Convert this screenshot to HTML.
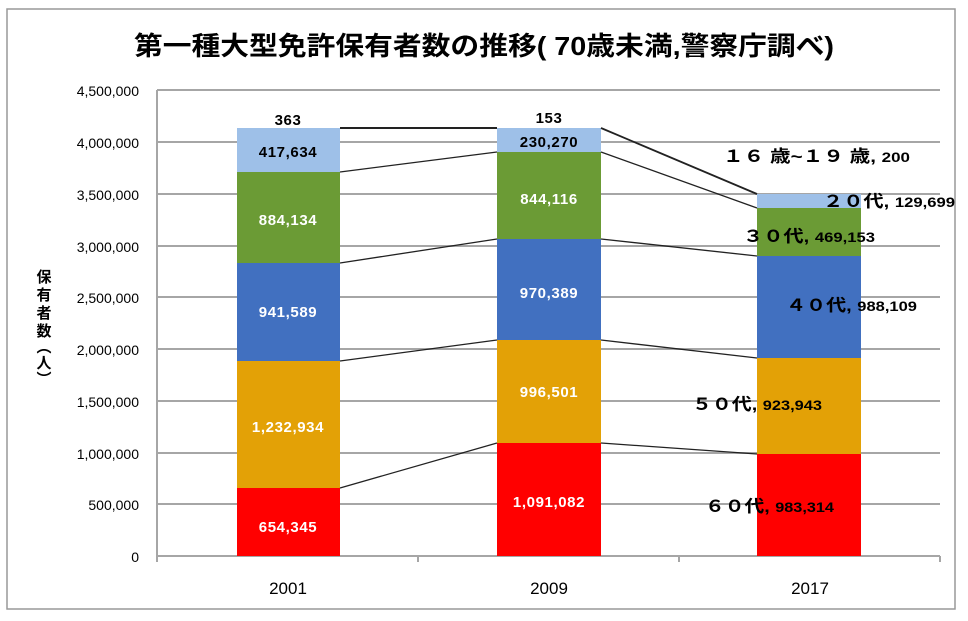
<!DOCTYPE html>
<html><head><meta charset="utf-8"><style>
html,body{margin:0;padding:0;background:#fff;}
svg{display:block;}
text{font-family:"Liberation Sans","Noto Sans CJK JP",sans-serif;}
</style></head><body>
<svg width="968" height="621" viewBox="0 0 968 621" xmlns="http://www.w3.org/2000/svg">
<rect x="0" y="0" width="968" height="621" fill="#fff"/>
<rect x="7" y="9" width="948" height="600" fill="#fff" stroke="#999" stroke-width="1.5"/>
<text x="134" y="55" font-size="26" font-weight="bold" fill="#000" textLength="700" lengthAdjust="spacingAndGlyphs">第一種大型免許保有者数の推移(  70歳未満,警察庁調べ)</text>
<g stroke="#a6a6a6" stroke-width="2">
<line x1="157" y1="90" x2="940" y2="90"/><line x1="157" y1="142" x2="940" y2="142"/>
<line x1="157" y1="194" x2="940" y2="194"/><line x1="157" y1="246" x2="940" y2="246"/>
<line x1="157" y1="297" x2="940" y2="297"/><line x1="157" y1="349" x2="940" y2="349"/>
<line x1="157" y1="401" x2="940" y2="401"/><line x1="157" y1="453" x2="940" y2="453"/>
<line x1="157" y1="504" x2="940" y2="504"/><line x1="157" y1="556" x2="940" y2="556"/>
<line x1="157" y1="90" x2="157" y2="562"/>
<line x1="418" y1="556" x2="418" y2="562"/><line x1="679" y1="556" x2="679" y2="562"/><line x1="940" y1="556" x2="940" y2="562"/>
</g>
<g font-size="14" text-anchor="end" fill="#000">
<text x="139" y="96">4,500,000</text><text x="139" y="148">4,000,000</text>
<text x="139" y="200">3,500,000</text><text x="139" y="252">3,000,000</text>
<text x="139" y="303">2,500,000</text><text x="139" y="355">2,000,000</text>
<text x="139" y="407">1,500,000</text><text x="139" y="459">1,000,000</text>
<text x="139" y="510">500,000</text><text x="139" y="562">0</text>
</g>
<g font-size="15" font-weight="bold" text-anchor="middle">
<text x="44" y="282">保</text><text x="44" y="300">有</text><text x="44" y="318">者</text><text x="44" y="336">数</text><text x="44" y="352">︵</text><text x="44" y="368">人</text><text x="44" y="384">︶</text>
</g>
<g font-size="17" text-anchor="middle" fill="#000">
<text x="288" y="594">2001</text><text x="549" y="594">2009</text><text x="810" y="594">2017</text>
</g>
<rect x="237" y="488" width="103" height="68" fill="#ff0000"/>
<rect x="237" y="361" width="103" height="127" fill="#e3a106"/>
<rect x="237" y="263" width="103" height="98" fill="#4170c0"/>
<rect x="237" y="172" width="103" height="91" fill="#6b9b35"/>
<rect x="237" y="128" width="103" height="44" fill="#9ec0e8"/>
<rect x="497" y="443" width="104" height="113" fill="#ff0000"/>
<rect x="497" y="340" width="104" height="103" fill="#e3a106"/>
<rect x="497" y="239" width="104" height="101" fill="#4170c0"/>
<rect x="497" y="152" width="104" height="87" fill="#6b9b35"/>
<rect x="497" y="128" width="104" height="24" fill="#9ec0e8"/>
<rect x="757" y="454" width="104" height="102" fill="#ff0000"/>
<rect x="757" y="358" width="104" height="96" fill="#e3a106"/>
<rect x="757" y="256" width="104" height="102" fill="#4170c0"/>
<rect x="757" y="208" width="104" height="48" fill="#6b9b35"/>
<rect x="757" y="194" width="104" height="14" fill="#9ec0e8"/>
<g stroke="#222" stroke-width="1.3" fill="none">
<line x1="340" y1="128" x2="497" y2="128" stroke-width="2"/><line x1="601" y1="128" x2="757" y2="194" stroke-width="1.8"/>
<line x1="340" y1="172" x2="497" y2="152"/><line x1="601" y1="152" x2="757" y2="208"/>
<line x1="340" y1="263" x2="497" y2="239"/><line x1="601" y1="239" x2="757" y2="256"/>
<line x1="340" y1="361" x2="497" y2="340"/><line x1="601" y1="340" x2="757" y2="358"/>
<line x1="340" y1="488" x2="497" y2="443"/><line x1="601" y1="443" x2="757" y2="454"/>
</g>
<g font-size="15" font-weight="bold" text-anchor="middle" letter-spacing="0.6">
<text x="288" y="125" fill="#000">363</text>
<text x="288" y="157" fill="#000">417,634</text>
<text x="288" y="225" fill="#fff">884,134</text>
<text x="288" y="317" fill="#fff">941,589</text>
<text x="288" y="432" fill="#fff">1,232,934</text>
<text x="288" y="532" fill="#fff">654,345</text>
<text x="549" y="123" fill="#000">153</text>
<text x="549" y="147" fill="#000">230,270</text>
<text x="549" y="204" fill="#fff">844,116</text>
<text x="549" y="298" fill="#fff">970,389</text>
<text x="549" y="397" fill="#fff">996,501</text>
<text x="549" y="507" fill="#fff">1,091,082</text>
</g>
<g font-size="17" font-weight="bold" fill="#000">
<text x="723" y="162" textLength="187" lengthAdjust="spacingAndGlyphs">１６ 歳~１９ 歳, <tspan font-size="14">200</tspan></text>
<text x="823" y="207" textLength="132" lengthAdjust="spacingAndGlyphs">２０代, <tspan font-size="14">129,699</tspan></text>
<text x="743" y="242" textLength="132" lengthAdjust="spacingAndGlyphs">３０代, <tspan font-size="14">469,153</tspan></text>
<text x="786" y="311" textLength="131" lengthAdjust="spacingAndGlyphs">４０代, <tspan font-size="14">988,109</tspan></text>
<text x="692" y="410" textLength="130" lengthAdjust="spacingAndGlyphs">５０代, <tspan font-size="14">923,943</tspan></text>
<text x="705" y="512" textLength="129" lengthAdjust="spacingAndGlyphs">６０代, <tspan font-size="14">983,314</tspan></text>
</g>
</svg>
</body></html>
